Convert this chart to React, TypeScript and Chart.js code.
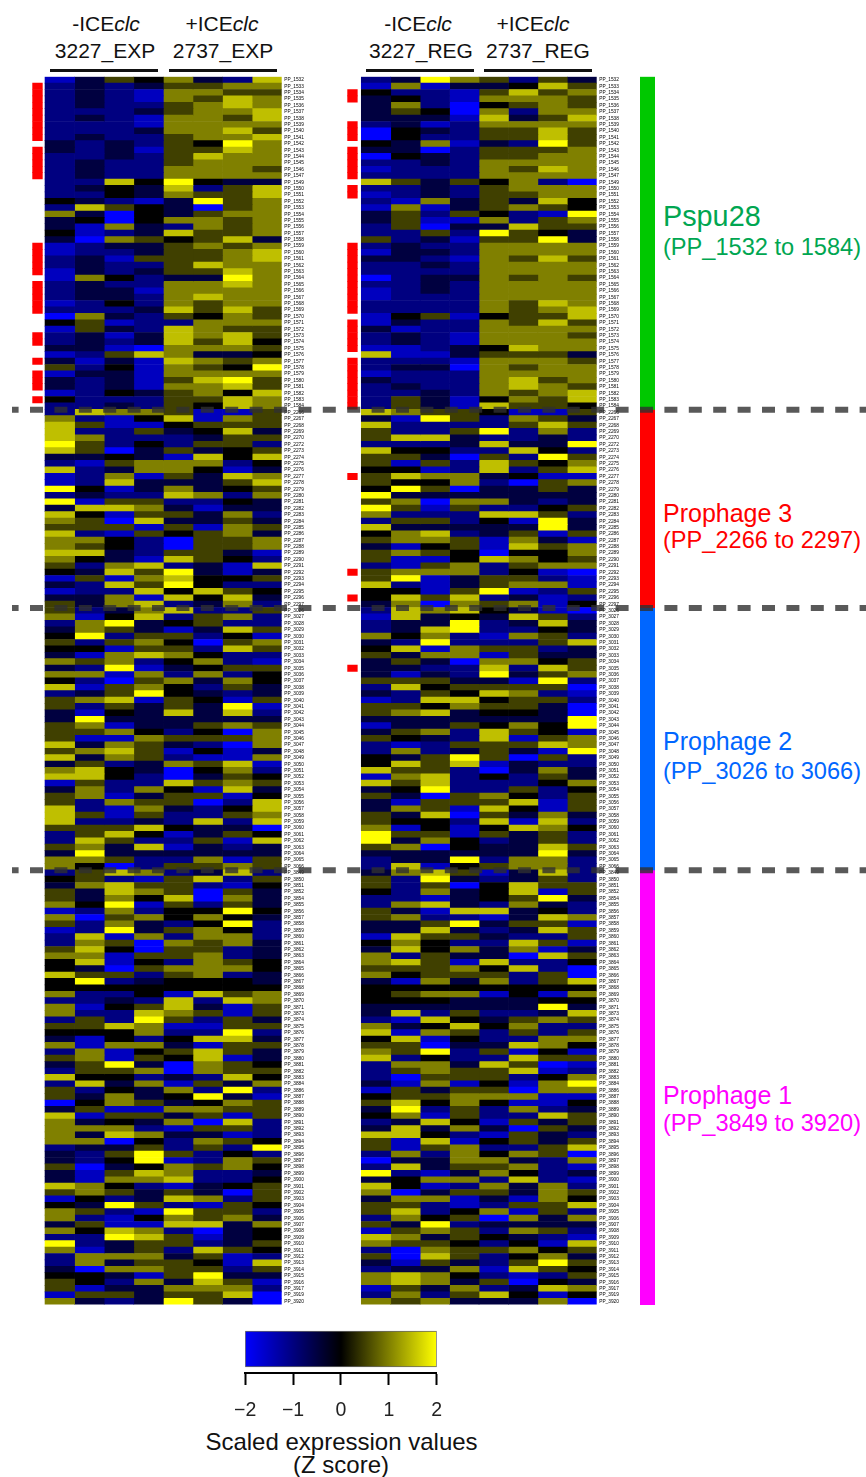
import React, { useEffect, useRef } from "react";
import { Chart, registerables } from "chart.js";

Chart.register(...registerables);

const FONT = '"Liberation Sans", Arial, sans-serif';

// Each string is one gene row, eight cells; digit d means Z = (d - 4) / 2.
const pspu28Exp = ["13546327","23235566","23216655","23216576","23225676","22235667","23216657","22216666","22236675","23225667","32325486","32315576","22325766","23225666","23226665","23226666","22748433","23437257","22436557","43213856","27543056","63043566","34046656","31632656","41237556","30654573","12335656","12235567","23155567","23225766","13235576","16423386","23226676","23316666","23326766","12426566","22237575","06325465","45122666","15327655","23137675","23237574","33106665","12576334","31317656","52416548","13316666","32315785","32316675","12435647","42225576","22325476"];
const prophage3Exp = ["27665115","62147165","75114555","72253473","76222355","85242552","75035345","33431747","21566624","72366413","12615376","12733357","84136345","23227626","81552243","37763133","74155362","65073353","55515165","72154563","66420556","65420556","77325531","64317542","52672317","43758313","15167445","32758422","12274754","33617473","53672362"];
const prophage2Exp = ["52367225","61472562","26834522","36531375","48255241","52564056","44155275","31676422","65624621","32813455","66162624","42056364","71564253","23584323","56715415","52535381","31437372","38333333","56133565","55642406","51165556","73653206","56751413","73652116","35236571","67430462","77420354","15227565","36264173","56135514","52655027","72163247","75152256","72232727","55574330","25741354","27522517","56371323","38333333","66522615","64025565"];
const prophage1Exp = ["25762372","45215725","36755214","53765053","53647063","64815253","12624484","60564643","52632482","12835642","27162662","26506563","57405523","66155623","47142654","43056664","75525623","48234443","44444444","62241756","22327276","61457315","62276515","25285253","55761155","44462282","31424773","61663155","26145753","56154713","35830654","25560655","74423274","27361536","52436282","53634831","04653465","35116655","71553515","63436072","66621552","63763312","66042654","23352528","32585242","32481265","50346564","31576223","31667224","76421345","56535305","14237625","43852154","65218552","62146563","35117736","64762034","22875134","82355235","61352754","26663512","26355417","30665525","44315833","54263751","51336662","15535570","63238530"];

const pspu28Reg = ["23865253","16133475","42215756","34216665","36204565","35406266","33317357","23126666","04325575","04225575","43613285","33025556","04325566","22326666","12226576","22226666","75354620","22325666","12325566","21635374","16135654","35254218","35116256","25033755","22528543","52315583","23226666","13326666","33216575","22326666","22226666","02336565","22326666","12326666","12226666","22226576","22226567","14514557","13226575","31226666","23216665","23216666","11234766","71135553","22216665","23306566","12226666","32226756","23226765","22326567","25314657","25317554"];
const prophage3Reg = ["76554115","31852653","72222575","52258262","57732232","22237338","74422742","55305285","51527546","44127257","57663411","54462056","48503353","83333333","56066323","85152245","62227752","25524183","73333383","46723515","56651631","31451756","56540446","51147645","21562566","56662410","58135521","72135661","44158125","47572312","36065614"];
const prophage2Reg = ["27674310","17343752","23382373","23782243","64621652","32822257","47165523","53661533","35306645","33227275","31328356","55533182","27455550","32547621","12774552","55465530","56734430","33333338","13354648","35627541","54327156","21255576","26235318","43585052","47571322","75520363","16724253","75722246","34822524","53056425","31555715","36517415","53705363","54427172","61414764","85515352","83642352","56043375","33333383","23382662","27145662"];
const prophage1Reg = ["36751372","52832352","52504755","42634715","22134583","26732632","53177342","56221376","33583551","33732375","17553225","46422751","37463613","62533075","67517224","55564720","64555250","31636257","44444444","45661416","44433344","33333383","37252237","21743565","63474622","71652525","47142266","55033764","65825141","72422755","26637501","25655712","20555246","31614168","15355066","45566611","57464114","38252623","46152275","23741535","37363053","77421532","51714535","51562257","26264650","03366326","27355621","82136423","34662721","74126362","60355365","36613164","55212557","57246152","26450636","53823333","15652652","76354321","65542417","20655645","50752463","31532585","23361754","67642125","67635043","15362376","26257414","65633360"];

// Gene numbers on the rows (some numbers are absent in the figure).
const pspu28Genes = [1532,1533,1534,1535,1536,1537,1538,1539,1540,1541,1542,1543,1544,1545,1546,1547,1549,1550,1551,1552,1553,1554,1555,1556,1557,1558,1559,1560,1561,1562,1563,1564,1565,1566,1567,1568,1569,1570,1571,1572,1573,1574,1575,1576,1577,1578,1579,1580,1581,1582,1583,1584];
const prophage3Genes = [2266,2267,2268,2269,2270,2272,2273,2274,2275,2276,2277,2278,2279,2280,2281,2282,2283,2284,2285,2286,2287,2288,2289,2290,2291,2292,2293,2294,2295,2296,2297];
const prophage2Genes = [3026,3027,3028,3029,3030,3031,3032,3033,3034,3035,3036,3037,3038,3039,3040,3041,3042,3043,3044,3045,3046,3047,3048,3049,3050,3051,3052,3053,3054,3055,3056,3057,3058,3059,3060,3061,3062,3063,3064,3065,3066];
const prophage1Genes = [3849,3850,3851,3852,3854,3855,3856,3857,3858,3859,3860,3861,3862,3863,3864,3865,3866,3867,3868,3869,3870,3871,3873,3874,3875,3876,3877,3878,3879,3880,3881,3882,3883,3884,3886,3887,3888,3889,3890,3891,3892,3893,3894,3895,3896,3897,3898,3899,3900,3901,3902,3903,3904,3905,3906,3907,3908,3909,3910,3911,3912,3913,3914,3915,3916,3917,3919,3920];

// Rows flagged with a red tick beside each panel.
const markedExp = [1,2,3,4,5,6,7,8,9,11,12,13,14,15,26,27,28,29,30,32,33,34,35,36,40,41,44,46,47,48,50];
const markedReg = [2,3,7,8,9,11,12,13,14,15,17,18,26,27,28,29,30,31,32,33,34,35,36,38,39,40,41,42,44,45,46,47,48,49,50,51,62,77,81,92];

const regionNames = ["Pspu28", "Prophage 3", "Prophage 2", "Prophage 1"];
const regionCounts = [52, 31, 41, 68];
const regionBarColors = ["#00c800", "#ff0000", "#0066ff", "#ff00ff"];
const colorbarTicks = [-2, -1, 0, 1, 2];

const expRows = [...pspu28Exp, ...prophage3Exp, ...prophage2Exp, ...prophage1Exp];
const regRows = [...pspu28Reg, ...prophage3Reg, ...prophage2Reg, ...prophage1Reg];
const geneLabels = [...pspu28Genes, ...prophage3Genes, ...prophage2Genes, ...prophage1Genes].map((g) => "PP_" + g);

function zColor(z: number): string {
  const v = Math.round((Math.min(2, Math.abs(z)) / 2) * 255);
  return z < 0 ? `rgb(0,0,${v})` : `rgb(${v},${v},0)`;
}

function heatConfig(rows: string[], marked: number[], xMin: number, padLeft: number, axisWidth: number): any {
  const z = rows.map((r) => r.split("").map((c) => (Number(c) - 4) / 2));
  const datasets: any[] = [];
  for (let c = 0; c < 8; c++) {
    datasets.push({
      data: z.map(() => [c, c + 1]),
      backgroundColor: z.map((r) => zColor(r[c])),
      grouped: false,
      barPercentage: 1,
      categoryPercentage: 1,
    });
  }
  datasets.push({
    data: z.map((_, i) => (marked.includes(i) ? [xMin, xMin + 0.34] : null)),
    backgroundColor: "#ff0000",
    grouped: false,
    barPercentage: 1,
    categoryPercentage: 1,
  });
  return {
    type: "bar",
    data: { labels: geneLabels, datasets },
    options: {
      indexAxis: "y",
      animation: false,
      responsive: false,
      devicePixelRatio: 1,
      layout: { padding: { left: padLeft, top: 6.7, bottom: 5, right: 0 } },
      plugins: { legend: { display: false }, tooltip: { enabled: false } },
      scales: {
        x: { type: "linear", min: xMin, max: 8, display: false },
        y: {
          type: "category",
          position: "right",
          grid: { display: false, drawTicks: false },
          border: { display: false },
          afterFit: (s: any) => { s.width = axisWidth; },
          ticks: {
            autoSkip: false,
            padding: 2.5,
            minRotation: 0,
            maxRotation: 0,
            color: "#000",
            font: { family: FONT, size: 4.8 },
          },
        },
      },
    },
  };
}

function regionConfig(): any {
  return {
    type: "bar",
    data: {
      labels: ["region"],
      datasets: regionNames.map((name, i) => ({
        label: name,
        data: [regionCounts[i]],
        backgroundColor: regionBarColors[i],
        barPercentage: 1,
        categoryPercentage: 1,
      })),
    },
    options: {
      animation: false,
      responsive: false,
      devicePixelRatio: 1,
      layout: { padding: { left: 4, right: 5, top: 6.7, bottom: 5 } },
      plugins: { legend: { display: false }, tooltip: { enabled: false } },
      scales: {
        x: { stacked: true, display: false },
        y: { stacked: true, display: false, min: 0, max: 192, reverse: true },
      },
    },
  };
}

function separatorConfig(): any {
  let sum = 0;
  const cuts = regionCounts.slice(0, 3).map((n) => (sum += n));
  return {
    type: "line",
    data: {
      datasets: cuts.map((y) => ({
        data: [{ x: 0, y }, { x: 1, y }],
        borderColor: "rgba(48,48,48,0.8)",
        borderWidth: 6,
        borderDash: [13, 11.4],
        borderDashOffset: 6.4,
        pointRadius: 0,
      })),
    },
    options: {
      animation: false,
      responsive: false,
      devicePixelRatio: 1,
      layout: { padding: { left: 12, top: 7.2, bottom: 5, right: 0 } },
      plugins: { legend: { display: false }, tooltip: { enabled: false } },
      scales: {
        x: { type: "linear", min: 0, max: 1, display: false },
        y: { type: "linear", min: 0, max: 192, reverse: true, display: false },
      },
    },
  };
}

function colorbarConfig(): any {
  return {
    type: "bar",
    data: {
      datasets: [{
        data: [{ x: [-2, 2], y: 18 }],
        barThickness: 36,
        borderWidth: 1,
        borderColor: "#666",
        borderSkipped: false,
        backgroundColor: (ctx: any) => {
          const { chart } = ctx;
          if (!chart.chartArea) return "#000";
          const g = chart.ctx.createLinearGradient(chart.scales.x.getPixelForValue(-2), 0, chart.scales.x.getPixelForValue(2), 0);
          g.addColorStop(0, zColor(-2));
          g.addColorStop(0.5, zColor(0));
          g.addColorStop(1, zColor(2));
          return g;
        },
      }],
    },
    options: {
      indexAxis: "y",
      animation: false,
      responsive: false,
      devicePixelRatio: 1,
      layout: { padding: { left: 23.5, right: 23.3, top: 4, bottom: 0 } },
      plugins: { legend: { display: false }, tooltip: { enabled: false } },
      scales: {
        y: { type: "linear", min: 0, max: 44, reverse: true, display: false },
        x: {
          type: "linear",
          min: -2,
          max: 2,
          afterFit: (s: any) => { s.height = 52; },
          afterBuildTicks: (s: any) => { s.ticks = colorbarTicks.map((value) => ({ value })); },
          grid: { drawOnChartArea: false, drawTicks: true, tickLength: 12, tickColor: "#000", tickWidth: 2 },
          border: { display: true, color: "#000", width: 2 },
          ticks: {
            padding: 14,
            color: "#222",
            font: { family: FONT, size: 19.5 },
            callback: (v: any) => String(v).replace("-", "\u2212"),
            maxRotation: 0,
          },
        },
      },
    },
  };
}

function ChartCanvas({ config, left, top, width, height }: any) {
  const ref = useRef<HTMLCanvasElement>(null);
  useEffect(() => {
    const chart = new Chart(ref.current as HTMLCanvasElement, config());
    return () => chart.destroy();
  }, []);
  return (
    <canvas
      ref={ref}
      width={width}
      height={height}
      style={{ position: "absolute", left, top, width, height, pointerEvents: "none" }}
    />
  );
}

function Label({ x, y, size, color = "#111", align = "center", children }: any) {
  const tx = align === "center" ? "-50%" : "0";
  return (
    <div
      style={{
        position: "absolute",
        left: x,
        top: y,
        transform: `translate(${tx},-50%)`,
        fontFamily: FONT,
        fontSize: size,
        color,
        whiteSpace: "nowrap",
        lineHeight: 1,
      }}
    >
      {children}
    </div>
  );
}

function Rule({ x1, x2 }: any) {
  return <div style={{ position: "absolute", left: x1, top: 69, width: x2 - x1, height: 3, background: "#111" }} />;
}

const clc = <i>clc</i>;

export default function App() {
  return (
    <div style={{ position: "absolute", left: 0, top: 0, width: 866, height: 1477, background: "#fff", overflow: "hidden", filter: "blur(0.5px)" }}>
      <Label x={106} y={23} size={21}>-ICE{clc}</Label>
      <Label x={222} y={23} size={21}>+ICE{clc}</Label>
      <Label x={418} y={23} size={21}>-ICE{clc}</Label>
      <Label x={533} y={23} size={21}>+ICE{clc}</Label>
      <Label x={105} y={50} size={21}>3227_EXP</Label>
      <Label x={223} y={50} size={21}>2737_EXP</Label>
      <Label x={421} y={50} size={21}>3227_REG</Label>
      <Label x={538} y={50} size={21}>2737_REG</Label>
      <Rule x1={49.5} x2={158} />
      <Rule x1={168.5} x2={276.5} />
      <Rule x1={365.5} x2={473.5} />
      <Rule x1={483.5} x2={592} />

      <ChartCanvas config={() => heatConfig(expRows, markedExp, -0.43, 2.3, 28.3)} left={30} top={70} width={280} height={1240} />
      <ChartCanvas config={() => heatConfig(regRows, markedReg, -0.476, 2.3, 33.3)} left={345} top={70} width={285} height={1240} />
      <ChartCanvas config={regionConfig} left={636} top={70} width={24} height={1240} />

      <Label x={663} y={216} size={28.8} color="#00a651" align="left">Pspu28</Label>
      <Label x={663} y={248} size={23.6} color="#00a651" align="left">(PP_1532 to 1584)</Label>
      <Label x={663} y={513} size={25} color="#ff0000" align="left">Prophage 3</Label>
      <Label x={663} y={541} size={23.6} color="#ff0000" align="left">(PP_2266 to 2297)</Label>
      <Label x={663} y={741} size={25} color="#0066ff" align="left">Prophage 2</Label>
      <Label x={663} y={772} size={23.6} color="#0066ff" align="left">(PP_3026 to 3066)</Label>
      <Label x={663} y={1095} size={25} color="#ff00ff" align="left">Prophage 1</Label>
      <Label x={663} y={1124} size={23.6} color="#ff00ff" align="left">(PP_3849 to 3920)</Label>

      <ChartCanvas config={separatorConfig} left={0} top={70} width={866} height={1240} />
      <ChartCanvas config={colorbarConfig} left={220} top={1325} width={240} height={100} />

      <Label x={341.5} y={1442} size={24}>Scaled expression values</Label>
      <Label x={341} y={1465} size={24}>(Z score)</Label>
    </div>
  );
}
